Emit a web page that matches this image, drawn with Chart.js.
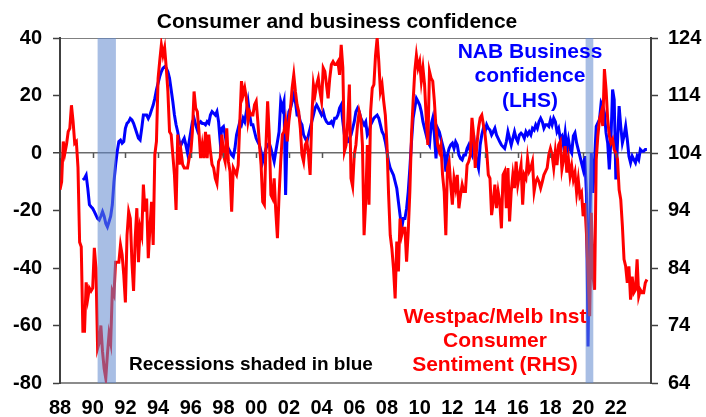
<!DOCTYPE html>
<html>
<head>
<meta charset="utf-8">
<script src="https://cdn.jsdelivr.net/npm/chart.js@4"></script>
<style>
  html, body { margin: 0; padding: 0; background: #ffffff; }
  #c { display: block; }
</style>
</head>
<body>
<canvas id="c" width="706" height="417"></canvas>
<script>
// ---------------- DATA ----------------
// Readings are taken every 0.1 year.
const sampleStepYears = 0.1;

// Westpac/Melbourne Institute Consumer Sentiment index (RHS), from 1988.0
const consumerStartYear = 1988.0;
const consumer1988to1997 = [97.6,99,106,104,105.5,107.7,108.3,112.3,109.5,105.7,106,101.5,88.5,87.7,73,73,81.5,78.7,80.5,80,80.5,87.5,84,70,71,74,69.5,66.5,64.8,69,72.5,71,80,79.3,85,85,85,88,86.3,82.8,78,89.7,93.8,92.6,85,80,89.2,94.4,85,91,89.7,98.5,93.8,96.1,85.7,91,95.5,88,103.7,106,117,120,122.8,121,122.3,118.8,114.7,107.7,107.2,103.7,100.2,94.1,107.2,102,104.3,102,101.4,101.4,101.4,103.1,104,107.7,114.7,111.8,111.2,107.7,103.1,105.4,103.1,107.7,103.1,107.2,104.3,102,101.4,99.6];
const consumer1997to2006 = [98.7,102.5,103.1,107.2,103.7,102.5,108.3,102.5,100.8,93.8,101.4,100.8,100.2,101.9,109.5,116.5,114.1,115.3,113.5,109.5,111.2,110.6,110.6,112.4,113,109.5,105.4,101.9,95.5,95,105.4,113,107.2,96.7,96.1,99.6,93.8,89.2,96.7,102.5,107.2,107.7,109.5,106,109.5,111.8,115.3,117.6,114.7,112.4,111.2,108.3,103.7,102.5,105.4,106,103.7,100.2,110,115.9,114.1,115.9,117,114.7,113,118.8,118.2,115.9,113.5,117,119.4,119.9,119.4,119.4,119.9,117.6,122.8,118.8,104.3,105.4,109.5,115.9,99.6,98.2,103.7,105.4,108.9,111.2,110,105.4,89.7,95.6];
const consumer2006to2015 = [105.4,95,111.2,115.3,115.9,121,124,119.9,114.7,115.9,113,110.6,105.4,96.7,89.7,87.4,83.9,78.7,88.6,83.4,92.6,89.7,90.9,90.9,85.1,90.3,97.3,107.2,113,118.2,121,118.8,119.9,116.5,118.8,115.9,110.1,105.4,118.2,117,116.5,113,108.3,105.4,104.3,105.4,100.2,97.3,89.7,101.4,102.5,98.5,95,99.6,97.9,100.2,94.4,96.7,98.5,97.3,97.3,101.9,102.5,103.7,110.1,107.2,101.4,105.4,108.3,110.1,110.6,108.9,107.2,104.3,100.2,99.6,93.2,95.5,98.5,94.4,97.3,95.5,90.9,100.2,100.8];
const consumer2015to2018 = [94.4,101.4,92.1,97.3,100.2,97.9,102.5,98.5,100.2,101.9,95,100.2,99.6,103.1,100.8,101.4,102.5,97.3,99,99.6,99,97.9,99,100.2,100.8,101.4,103.7,104.8,103.7,101.4,104.3,101.9,105.4,106];
const consumer2018to2023 = [101.2,102.9,105.2,100.6,102.9,100,101.7,99.4,100.6,97.1,99.4,96.5,97.1,93,95.3,90.1,83.2,75.6,93.6,82.6,80.2,102.9,107,109.9,111,108.7,118.6,115.1,109.9,107,105.8,106.4,104.6,104,102.9,97.6,95.9,91.3,85.5,84.3,81.4,84.3,78.5,82.5,79.7,80.2,85.5,79.1,80.2,79.7,79.7,81.4,82];

// NAB Business confidence, net balance (LHS), from 1989.4
const businessStartYear = 1989.4;
const business1989to1997 = [-9.4,-8.8,-7.7,-12.3,-18,-18.7,-19.3,-20.4,-21.6,-22.8,-23.3,-22,-20.4,-22,-24.5,-25.7,-23.9,-22,-18,-10,-4.2,0.5,4,4.5,3.4,4,8.6,10.3,10.9,12,11.5,10.3,8.6,6.9,5.1,4.5,8.6,13.2,13.2,13.2,12,13.2,15,16.7,19,22,24.3,26.6,28.3,29.5,30,29.5,28.3,26,22,17.9,13.2,9.8,7.4,4,2.8,4,5.1,2.8,0,4,7.4,10.9,12,9.8,8,10.3,10.9,10.3,10.3,9.8,10.9,10.3,13.2,14.4,13.8,13.2];
const business1997to2006 = [14.4,10.9,3.9,8.6,9.2,6.3,2.8,1.6,0.5,-0.7,-1.3,1.6,6.3,8.6,10.9,9.8,12.1,10.9,14.4,17.9,13.2,9.8,9.8,7.4,5.1,3.9,2.8,0.5,-3,-0.7,1.6,2.8,3.4,1.6,-0.7,-3,0.5,3.9,7.4,17.9,15.6,17.9,-14.6,8.6,14.4,15.6,17.9,20.2,17.9,13.2,13.2,10.9,9.8,6.3,5.1,3.9,6.3,8.6,10.9,13.2,15.6,16.7,15.6,14.4,13.2,14.4,12.1,10.9,10.3,10.3,10.9,9.8,12.1,12.1,13.2,15.6,16.7,10.9,6.3,3.9,3.9,5.1,6.3,8.6,10.9,14.4,15.6,14.4,12.1,10.9,9.8,10.9];
const business2006to2015 = [6.3,7.4,9.8,10.9,12.1,12.7,13.2,12.1,9.8,7.4,6.3,3.9,0.5,-3,-5.3,-6.5,-7.7,-10,-12.3,-17,-21.6,-26.2,-22.8,-22.8,-19.3,-13.5,-5.3,3.9,12.1,15.6,19,17.9,16.7,14.4,10.9,8.6,6.3,3.9,2.8,9.8,12.1,6.3,-1.9,8.6,7.4,5.1,2.8,0.5,-6.5,-0.7,1.6,2.8,3.4,1.6,3.9,2.8,-0.7,-1.9,-2.4,-0.7,-0.7,1.6,2.8,0.5,-0.7,6.3,0.5,-3,-5.3,2.8,6.3,8.6,7.4,9.8,8.6,8,6.3,7.4,8.6,6.3,5.1,3.9,2.8,2.2,1.6];
const business2015to2018 = [3.9,7.4,5.1,2.8,5.1,7.4,5.1,3.9,6.3,6.9,6.3,5.1,7.4,6.3,7.4,6.3,8.6,8,9.8,8.6,10.9,12.1,10.9,8.6,9.8,9.8,9.2,11.5,9.8,12.1,10.9,7.4,8.6,5.1];
const business2018to2023 = [5.9,2.4,7,1.2,4.7,1.2,0,5.9,7,3.5,1.2,-1.1,-3.4,-5.7,-1.1,-13.9,-67.3,-25.5,0,-13.9,-2.3,9.3,10.5,11.7,17.5,16.3,14,7,3.5,-5.7,4.7,22.1,18.6,-9.2,3.5,16.3,9.3,3.5,5.9,9.3,4.7,-1.1,-3.4,-1.1,-2.3,-3.4,-1.1,-2.3,1.2,0.6,0.6,1.2,1.2];

// Recessions (decimal years)
const recessionStarts = [1990.3, 2020.15];
const recessionEnds   = [1991.42, 2020.62];

// Axis ticks
const xTickYears  = [1988,1990,1992,1994,1996,1998,2000,2002,2004,2006,2008,2010,2012,2014,2016,2018,2020,2022];
const xTickLabels = ['88','90','92','94','96','98','00','02','04','06','08','10','12','14','16','18','20','22'];
const leftTicks  = [-80,-60,-40,-20,0,20,40];
const rightTicks = [64,74,84,94,104,114,124];

// Texts
const chartTitle = 'Consumer and business confidence';
const businessLabel = ['NAB Business', 'confidence', '(LHS)'];
const consumerLabel = ['Westpac/Melb Inst', 'Consumer', 'Sentiment (RHS)'];
const recessionNote = 'Recessions shaded in blue';

// ---------------- BUILD ----------------
const consumerValues = [].concat(consumer1988to1997, consumer1997to2006, consumer2006to2015, consumer2015to2018, consumer2018to2023);
const businessValues = [].concat(business1989to1997, business1997to2006, business2006to2015, business2015to2018, business2018to2023);
function toPoints(start, values) {
  return values.map((v, i) => ({ x: Math.round((start + i * sampleStepYears) * 100) / 100, y: v }));
}

const FONT = '"Liberation Sans", Arial, sans-serif';

const overlayPlugin = {
  id: 'overlay',
  afterDatasetsDraw(chart) {
    const { ctx, chartArea, scales } = chart;
    ctx.save();
    // recession shading (semi-transparent, over the lines)
    ctx.fillStyle = 'rgba(97,136,205,0.55)';
    for (let i = 0; i < recessionStarts.length; i++) {
      const x1 = scales.x.getPixelForValue(recessionStarts[i]);
      const x2 = scales.x.getPixelForValue(recessionEnds[i]);
      ctx.fillRect(x1, chartArea.top, x2 - x1, chartArea.bottom - chartArea.top);
    }
    // small tick marks hanging from the zero line
    const y0 = scales.y.getPixelForValue(0);
    ctx.strokeStyle = '#555555';
    ctx.lineWidth = 1.5;
    ctx.beginPath();
    xTickYears.forEach(yr => {
      const px = Math.round(scales.x.getPixelForValue(yr)) + 0.5;
      ctx.moveTo(px, y0);
      ctx.lineTo(px, y0 + 5);
    });
    ctx.stroke();
    ctx.restore();
  },
  afterDraw(chart) {
    const { ctx } = chart;
    ctx.save();
    ctx.textBaseline = 'middle';
    ctx.textAlign = 'center';
    ctx.fillStyle = '#000000';
    ctx.font = 'bold 21px ' + FONT;
    ctx.fillText(chartTitle, 337, 22);

    ctx.fillStyle = '#0000FF';
    ctx.font = 'bold 21px ' + FONT;
    businessLabel.forEach((t, i) => ctx.fillText(t, 530, 52 + i * 24.5));

    ctx.fillStyle = '#FF0000';
    ctx.font = 'bold 21px ' + FONT;
    consumerLabel.forEach((t, i) => ctx.fillText(t, 495, 317 + i * 24));

    ctx.fillStyle = '#000000';
    ctx.font = 'bold 19px ' + FONT;
    ctx.textAlign = 'left';
    ctx.fillText(recessionNote, 129, 365);
    ctx.restore();
  }
};

new Chart(document.getElementById('c'), {
  type: 'line',
  data: {
    datasets: [
      {
        label: 'Westpac/Melb Inst Consumer Sentiment (RHS)',
        data: toPoints(consumerStartYear, consumerValues),
        yAxisID: 'y1',
        borderColor: '#FF0000',
        borderWidth: 3,
        pointRadius: 0,
        tension: 0,
        fill: false
      },
      {
        label: 'NAB Business confidence (LHS)',
        data: toPoints(businessStartYear, businessValues),
        yAxisID: 'y',
        borderColor: '#0000FF',
        borderWidth: 3,
        pointRadius: 0,
        tension: 0,
        fill: false
      }
    ]
  },
  options: {
    responsive: false,
    animation: false,
    devicePixelRatio: 1,
    layout: { padding: { top: 38, left: 0, right: 0, bottom: 0 } },
    plugins: {
      legend: { display: false },
      title: { display: false },
      tooltip: { enabled: false }
    },
    scales: {
      x: {
        type: 'linear',
        position: 'bottom',
        min: 1988,
        max: 2024.15,
        afterBuildTicks: (scale) => { scale.ticks = xTickYears.map(v => ({ value: v })); },
        afterFit: (scale) => { scale.height = 34; },
        ticks: {
          autoSkip: false,
          maxRotation: 0,
          padding: 13,
          color: '#000000',
          font: { family: FONT, size: 20, weight: 'bold' },
          callback: (value) => xTickLabels[xTickYears.indexOf(value)]
        },
        grid: { display: false, drawTicks: false },
        border: { display: true, color: '#8c8c8c', width: 2 }
      },
      y: {
        type: 'linear',
        position: 'left',
        min: -80,
        max: 40,
        afterBuildTicks: (scale) => { scale.ticks = leftTicks.map(v => ({ value: v })); },
        afterFit: (scale) => { scale.width = 60; },
        ticks: {
          padding: 11,
          color: '#000000',
          font: { family: FONT, size: 20, weight: 'bold' }
        },
        grid: {
          drawOnChartArea: true,
          drawTicks: true,
          tickLength: 7,
          tickColor: '#404040',
          tickWidth: 1.5,
          color: (ctx) => {
            if (!ctx.tick) return 'rgba(0,0,0,0)';
            if (ctx.tick.value === 0) return '#6a6a6a';
            if (ctx.tick.value === 40) return '#808080';
            return 'rgba(0,0,0,0)';
          },
          lineWidth: (ctx) => (ctx.tick && ctx.tick.value === 0 ? 1.5 : 1)
        },
        border: { display: true, color: '#404040', width: 2 }
      },
      y1: {
        type: 'linear',
        position: 'right',
        min: 64,
        max: 124,
        afterBuildTicks: (scale) => { scale.ticks = rightTicks.map(v => ({ value: v })); },
        afterFit: (scale) => { scale.width = 55; },
        ticks: {
          padding: 10,
          color: '#000000',
          font: { family: FONT, size: 20, weight: 'bold' }
        },
        grid: {
          drawOnChartArea: false,
          drawTicks: true,
          tickLength: 7,
          tickColor: '#404040',
          tickWidth: 1.5
        },
        border: { display: true, color: '#404040', width: 2 }
      }
    }
  },
  plugins: [overlayPlugin]
});
</script>
</body>
</html>
